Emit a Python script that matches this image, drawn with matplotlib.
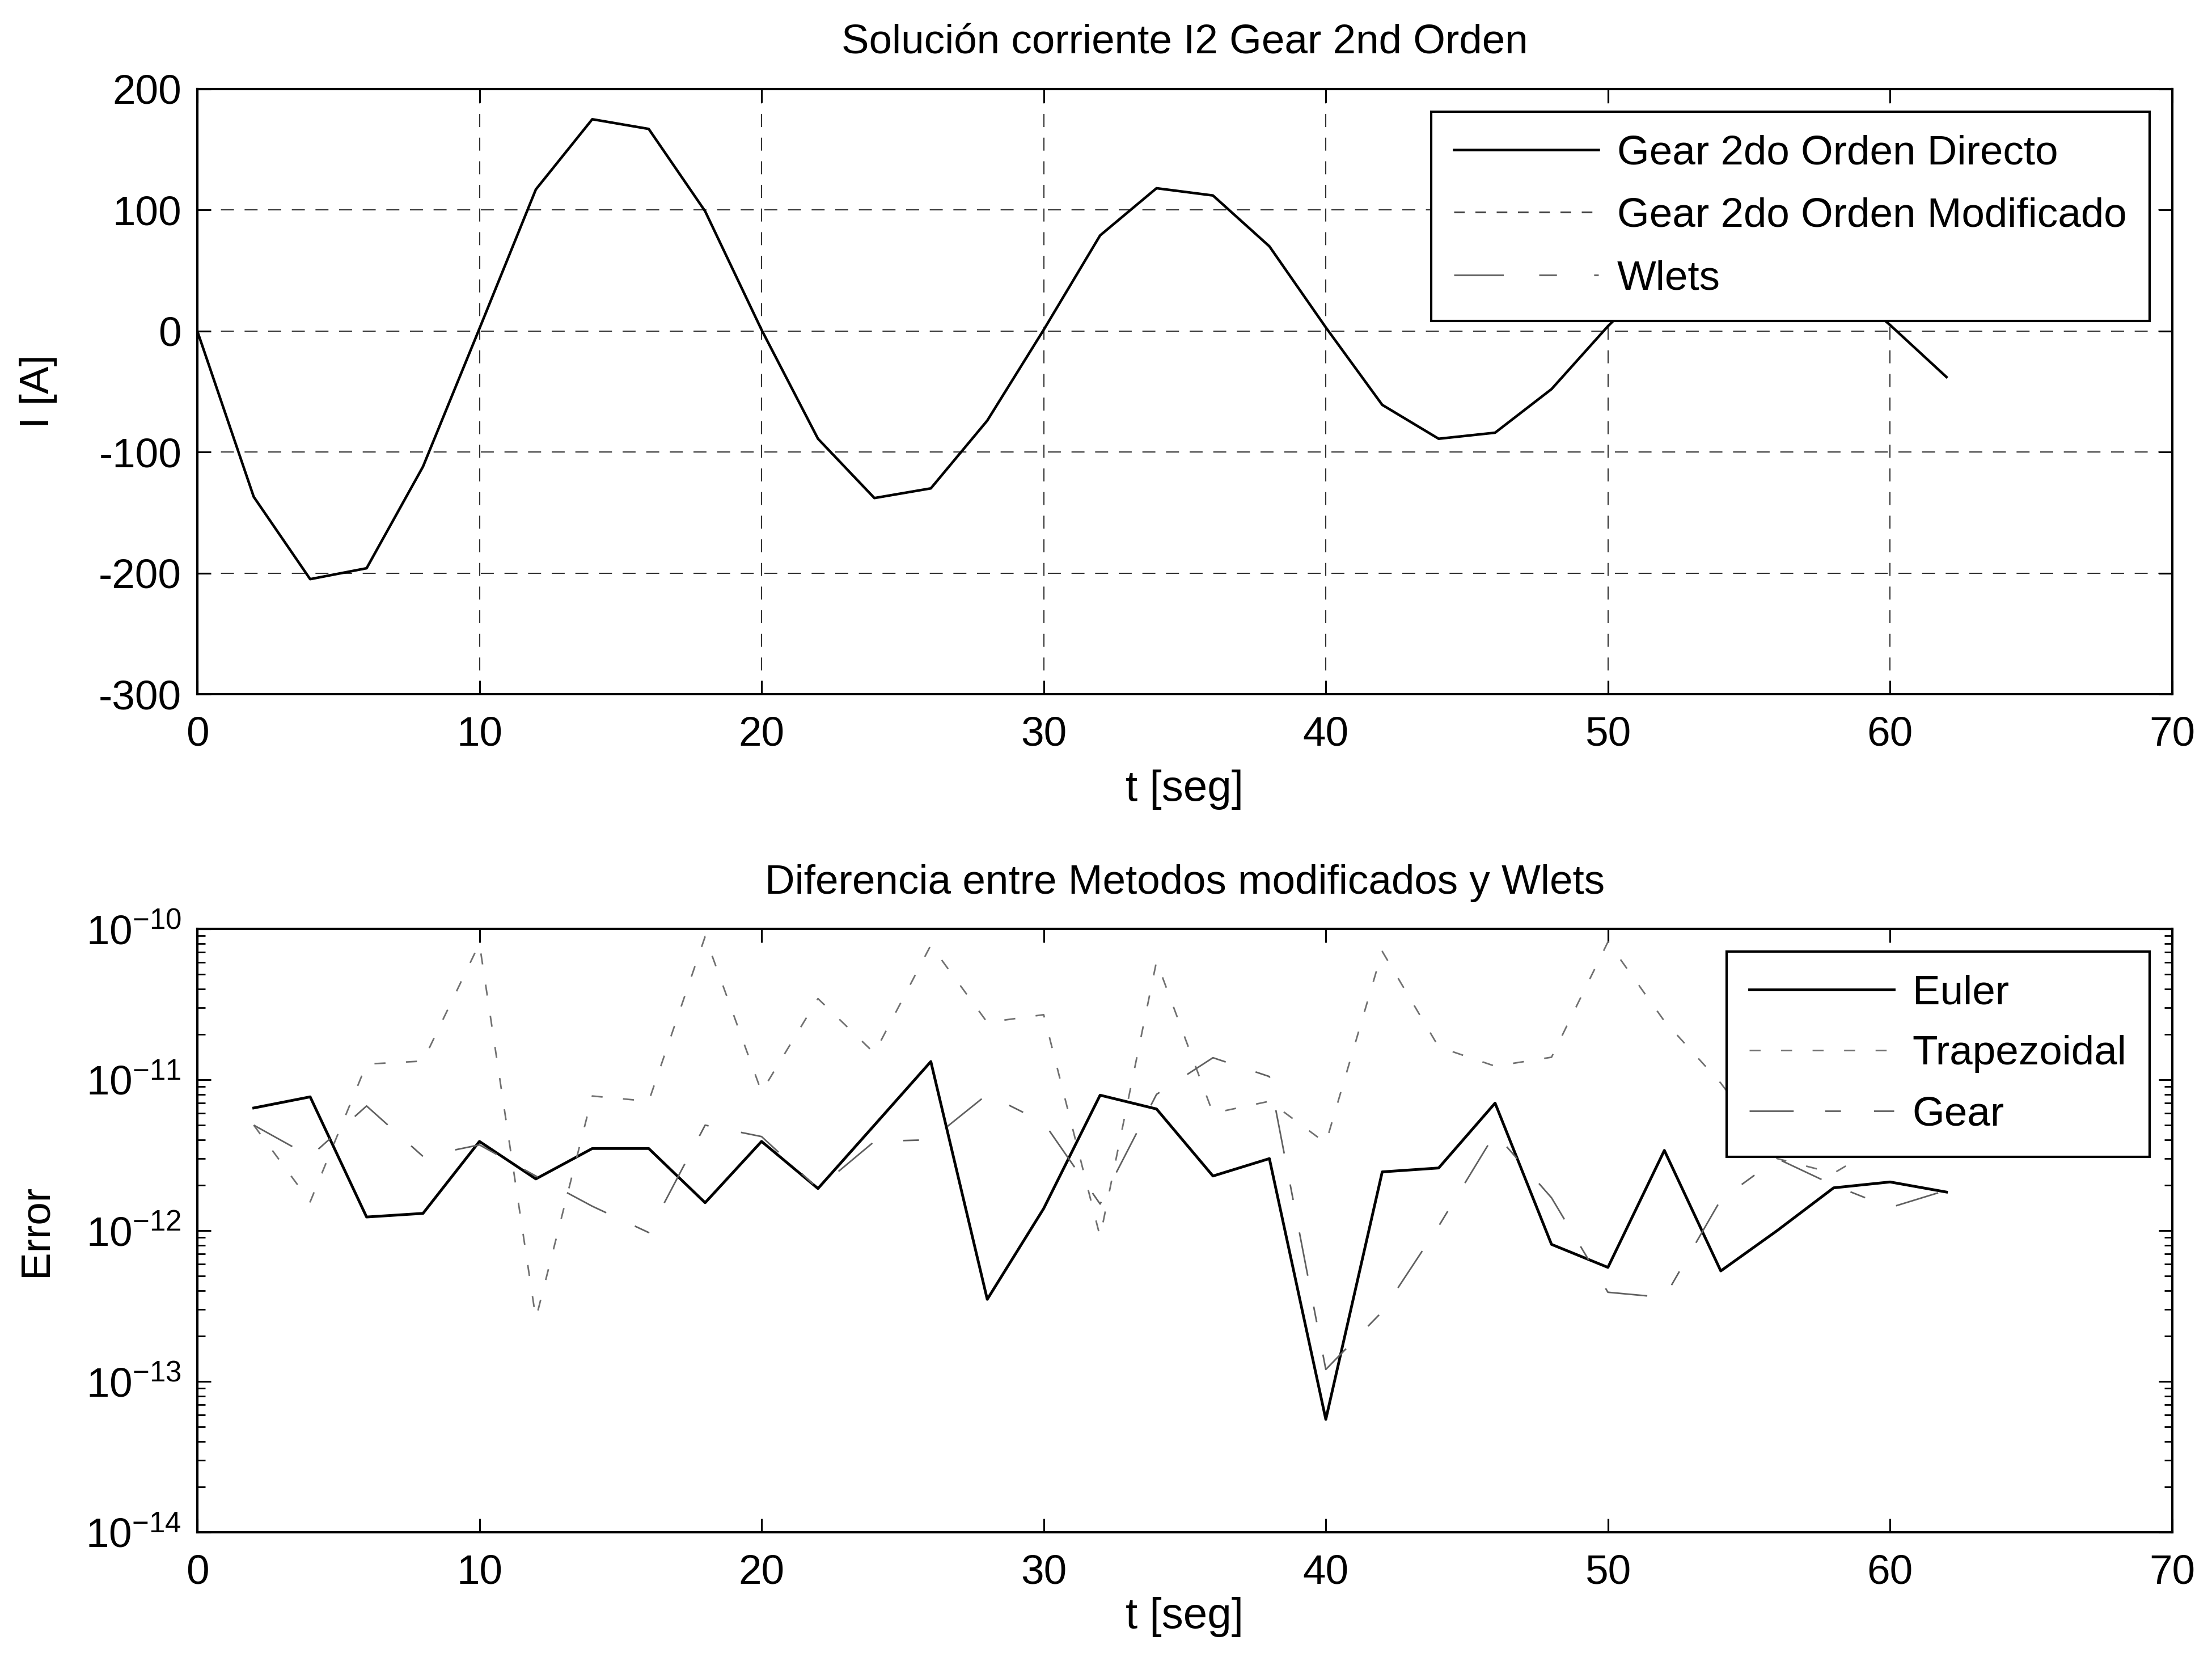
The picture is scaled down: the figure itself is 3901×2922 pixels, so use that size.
import matplotlib
matplotlib.use("Agg")
import matplotlib.pyplot as plt

plt.rcParams['font.family'] = ['Liberation Sans', 'DejaVu Sans']
plt.rcParams['mathtext.fontset'] = 'custom'
plt.rcParams['mathtext.rm'] = 'Liberation Sans'
plt.rcParams['mathtext.it'] = 'Liberation Sans:italic'
plt.rcParams['mathtext.default'] = 'regular'
plt.rcParams['axes.unicode_minus'] = False

# corriente I2 (top plot)
t_sol = [0, 2, 4, 6, 8, 10, 12, 14, 16, 18, 20, 22, 24, 26, 28, 30,
         32, 34, 36, 38, 40, 42, 44, 46, 48, 50, 52, 54, 56, 58, 60, 62]
i_directo = [0, -137, -205, -196, -112, 2, 117, 175, 167, 99, 1, -89, -138, -130, -74, 1,
             79, 118, 112, 70, 3, -61, -89, -84, -48, 4, 50, 78, 75, 45, 5, -38]
i_modificado = list(i_directo)
i_wlets = list(i_directo)

# errores (bottom plot)
t_err = [2, 4, 6, 8, 10, 12, 14, 16, 18, 20, 22, 24, 26, 28, 30, 32,
         34, 36, 38, 40, 42, 44, 46, 48, 50, 52, 54, 56, 58, 60, 62]
err_euler = [6.5e-12, 7.7e-12, 1.23e-12, 1.3e-12, 3.9e-12, 2.2e-12, 3.5e-12, 3.5e-12,
             1.53e-12, 3.9e-12, 1.9e-12, 5.0e-12, 1.32e-11, 3.5e-13, 1.4e-12, 7.9e-12,
             6.4e-12, 2.3e-12, 3.0e-12, 5.6e-14, 2.45e-12, 2.6e-12, 7.0e-12, 8.1e-13,
             5.7e-13, 3.4e-12, 5.4e-13, 1.0e-12, 1.92e-12, 2.1e-12, 1.8e-12]
err_trap = [5.0e-12, 1.55e-12, 1.27e-11, 1.33e-11, 8.0e-11, 2.6e-13, 7.8e-12, 7.2e-12,
            8.9e-11, 8.3e-12, 3.45e-11, 1.5e-11, 7.8e-11, 2.4e-11, 2.7e-11, 9.1e-13,
            6.1e-11, 6.0e-12, 7.2e-12, 3.8e-12, 7.1e-11, 1.65e-11, 1.23e-11, 1.41e-11,
            8.2e-11, 2.45e-11, 9.5e-12, 3.0e-12, 2.4e-12, 4.0e-12, 5.0e-12]
err_gear = [5.0e-12, 3.1e-12, 6.7e-12, 3.1e-12, 3.7e-12, 2.3e-12, 1.45e-12, 9.7e-13,
            5.0e-12, 4.2e-12, 1.9e-12, 3.9e-12, 4.0e-12, 8.0e-12, 5.2e-12, 1.5e-12,
            8.0e-12, 1.4e-11, 1.05e-11, 1.2e-13, 2.9e-13, 1.07e-12, 4.4e-12, 1.65e-12,
            3.9e-13, 3.6e-13, 1.6e-12, 3.0e-12, 2.0e-12, 1.42e-12, 1.85e-12]

fs = 21

fig = plt.figure(figsize=(15.604, 11.688), dpi=250)
ax1 = fig.add_axes([0.0892, 0.5811, 0.8928, 0.3652])
ax2 = fig.add_axes([0.0892, 0.0753, 0.8928, 0.3641])

# top plot
ax1.plot(t_sol, i_directo, color='k', lw=1.3, zorder=4, label='Gear 2do Orden Directo')
ax1.plot(t_sol, i_modificado, color='#444444', lw=0.9, dashes=(6, 6), zorder=3,
         label='Gear 2do Orden Modificado')
ax1.plot(t_sol, i_wlets, color='#666666', lw=0.9, dashes=(28, 20, 10, 21), zorder=2,
         label='Wlets')
ax1.set_xlim(0, 70)
ax1.set_ylim(-300, 200)
ax1.set_xticks(range(0, 80, 10))
ax1.set_yticks(range(-300, 300, 100))
ax1.grid(True, color='#333333', linestyle=(0, (11, 9)), linewidth=0.6)
ax1.set_title('Solución corriente I2 Gear 2nd Orden', fontsize=fs, pad=18)
ax1.set_xlabel('t [seg]', fontsize=fs + 1)
ax1.set_ylabel('I [A]', fontsize=fs)
ax1.xaxis.set_label_coords(0.5, -0.125)
ax1.yaxis.set_label_coords(-0.071, 0.5)
leg1 = ax1.legend(loc='upper right', fontsize=fs, fancybox=False, edgecolor='k',
                  framealpha=1, borderaxespad=0.55, handlelength=3.5,
                  handletextpad=0.45, labelspacing=0.6, borderpad=0.55)
leg1.get_frame().set_linewidth(1.2)

# bottom plot
ax2.semilogy(t_err, err_euler, color='k', lw=1.4, label='Euler')
ax2.semilogy(t_err, err_trap, color='#707070', lw=0.8, dashes=(7, 13), label='Trapezoidal')
ax2.semilogy(t_err, err_gear, color='#606060', lw=0.8, dashes=(28, 20, 10, 21), label='Gear')
ax2.set_xlim(0, 70)
ax2.set_ylim(1e-14, 1e-10)
ax2.set_xticks(range(0, 80, 10))
ax2.set_title('Diferencia entre Metodos modificados y Wlets', fontsize=fs, pad=18)
ax2.set_xlabel('t [seg]', fontsize=fs + 1)
ax2.set_ylabel('Error', fontsize=fs)
ax2.xaxis.set_label_coords(0.5, -0.107)
ax2.yaxis.set_label_coords(-0.072, 0.5)
leg2 = ax2.legend(loc='upper right', fontsize=fs, fancybox=False, edgecolor='k',
                  framealpha=1, borderaxespad=0.55, handlelength=3.5,
                  handletextpad=0.45, labelspacing=0.55, borderpad=0.55)
leg2.get_frame().set_linewidth(1.2)

for ax in (ax1, ax2):
    ax.tick_params(which='major', direction='in', top=True, right=True,
                   length=7, width=0.9, labelsize=fs)
    ax.tick_params(which='minor', direction='in', top=True, right=True,
                   length=4, width=0.8)
    ax.tick_params(axis='x', pad=11)
    ax.tick_params(axis='y', pad=8)
    for s in ax.spines.values():
        s.set_linewidth(1.2)
ax1.minorticks_off()

fig.savefig('out.png', dpi=250)
